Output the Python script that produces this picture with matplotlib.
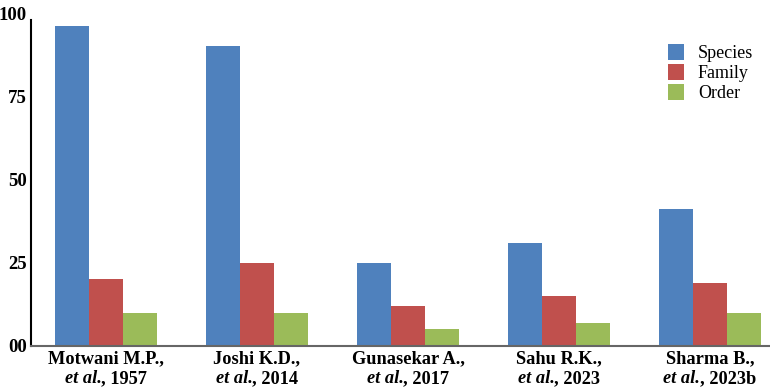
import matplotlib
matplotlib.use("Agg")
import matplotlib.pyplot as plt
import numpy as np
from matplotlib.offsetbox import TextArea, HPacker, VPacker, AnnotationBbox
from matplotlib.patches import Patch

# ---- data ----
authors = ["Motwani M.P.,", "Joshi K.D.,", "Gunasekar A.,", "Sahu R.K.,", "Sharma B.,"]
years = [", 1957", ", 2014", ", 2017", ", 2023", ", 2023b"]
species = [96, 90, 25, 31, 41]
family = [20, 25, 12, 15, 19]
order = [10, 10, 5, 7, 10]
series_names = ["Species", "Family", "Order"]
colors = ["#4F81BD", "#C0504D", "#9BBB59"]
yticks = [0, 25, 50, 75, 100]
ytick_labels = ["00", "25", "50", "75", "100"]

SERIF = "Liberation Serif"

fig = plt.figure(figsize=(7.7, 3.88), dpi=100)
ax = fig.add_axes([31 / 770, 42 / 388, 739 / 770, 333 / 388])

x = np.arange(len(authors))
w = 0.225
for i, (vals, c) in enumerate(zip([species, family, order], colors)):
    ax.bar(x + (i - 1) * w, vals, width=w, color=c, edgecolor="none")

ax.set_xlim(-0.497, 4.397)
ax.set_ylim(0, 100)

for s in ["top", "right"]:
    ax.spines[s].set_visible(False)
ax.spines["left"].set_color("black")
ax.spines["left"].set_linewidth(1.5)
ax.spines["left"].set_bounds(0, 98)
ax.spines["bottom"].set_color("#666666")
ax.spines["bottom"].set_linewidth(1.5)

ax.set_yticks(yticks)
ax.set_yticklabels(ytick_labels, fontfamily=SERIF, fontweight="bold", fontsize=13.5)
ax.tick_params(axis="y", length=0, pad=3)
ax.set_xticks([])

fs = 13.2
for xi, a, yr in zip(x, authors, years):
    l1 = TextArea(a, textprops=dict(family=SERIF, weight="bold", size=fs))
    p1 = TextArea("et al.", textprops=dict(family=SERIF, weight="bold", style="italic", size=fs))
    p2 = TextArea(yr, textprops=dict(family=SERIF, weight="bold", size=fs))
    l2 = HPacker(children=[p1, p2], pad=0, sep=0, align="baseline")
    box = VPacker(children=[l1, l2], pad=0, sep=2, align="center")
    ab = AnnotationBbox(box, (xi, 0), xycoords=("data", "axes fraction"),
                        xybox=(0, -3), boxcoords="offset points",
                        box_alignment=(0.5, 1), frameon=False, annotation_clip=False)
    ax.add_artist(ab)

handles = [Patch(facecolor=c, edgecolor="none") for c in colors]
fig.legend(handles, series_names, loc="upper left",
           bbox_to_anchor=(668 / 770, 1 - 44 / 388), frameon=False,
           prop=dict(family=SERIF, size=13), handlelength=0.9, handleheight=1.0,
           handletextpad=0.75, labelspacing=0.1, borderpad=0, borderaxespad=0)

fig.savefig("out.png", dpi=100)
